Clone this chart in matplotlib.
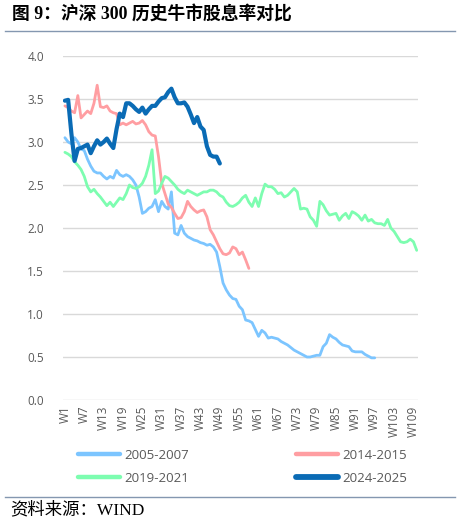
import matplotlib
matplotlib.use("Agg")
import matplotlib.pyplot as plt
from matplotlib.lines import Line2D

plt.rcParams['font.family'] = ['Open Sans', 'Noto Sans CJK SC', 'DejaVu Sans']

weeks = [f"W{i}" for i in range(1, 111)]
tick_labels = weeks[::6]

s2005 = [3.05, 3.0, 2.98, 3.05, 3.0, 2.92, 2.9, 2.8, 2.72, 2.66,
         2.64, 2.64, 2.6, 2.57, 2.6, 2.58, 2.67, 2.62, 2.6, 2.62,
         2.6, 2.56, 2.5, 2.36, 2.17, 2.19, 2.23, 2.25, 2.33, 2.19,
         2.31, 2.25, 2.22, 2.42, 1.94, 1.92, 2.03, 1.94, 1.9, 1.88,
         1.86, 1.85, 1.83, 1.82, 1.8, 1.81, 1.78, 1.72, 1.55, 1.36,
         1.28, 1.22, 1.18, 1.17, 1.09, 1.05, 0.93, 0.92, 0.9, 0.82,
         0.74, 0.81, 0.78, 0.72, 0.73, 0.72, 0.71, 0.68, 0.66, 0.64,
         0.61, 0.58, 0.56, 0.54, 0.52, 0.5, 0.5, 0.51, 0.52, 0.52,
         0.62, 0.66, 0.76, 0.73, 0.71, 0.67, 0.64, 0.63, 0.62, 0.57,
         0.56, 0.56, 0.56, 0.53, 0.51, 0.49, 0.49]

s2014 = [3.42, 3.4, 3.36, 3.34, 3.54, 3.28, 3.32, 3.36, 3.33, 3.45,
         3.66, 3.41, 3.4, 3.42, 3.36, 3.34, 3.33, 3.2, 3.22, 3.2,
         3.22, 3.24, 3.21, 3.22, 3.25, 3.2, 3.12, 3.08, 3.07, 2.83,
         2.52, 2.4, 2.28, 2.24, 2.17, 2.11, 2.12, 2.19, 2.31, 2.25,
         2.21, 2.18, 2.2, 2.21, 2.13, 1.98, 1.92, 1.84, 1.76, 1.7,
         1.69, 1.71, 1.78, 1.76, 1.69, 1.72, 1.63, 1.53]

s2019 = [2.88, 2.86, 2.83, 2.77, 2.73, 2.68, 2.6, 2.48, 2.42, 2.45,
         2.4, 2.36, 2.31, 2.26, 2.3, 2.25, 2.3, 2.35, 2.33, 2.4,
         2.5, 2.47, 2.46, 2.48, 2.52, 2.6, 2.73, 2.91, 2.4, 2.43,
         2.52, 2.6, 2.58, 2.54, 2.5, 2.45, 2.42, 2.4, 2.44, 2.42,
         2.4, 2.38, 2.4, 2.42, 2.42, 2.44, 2.44, 2.42, 2.38, 2.36,
         2.3, 2.26, 2.25, 2.27, 2.3, 2.35, 2.38, 2.3, 2.25, 2.35,
         2.25, 2.4, 2.51, 2.48, 2.48, 2.45, 2.4, 2.41, 2.36, 2.38,
         2.42, 2.46, 2.42, 2.22, 2.23, 2.22, 2.13, 2.09, 2.02, 2.31,
         2.27, 2.2, 2.15, 2.16, 2.17, 2.09, 2.14, 2.17, 2.11, 2.19,
         2.17, 2.14, 2.09, 2.15, 2.08, 2.1, 2.06, 2.05, 2.05, 2.03,
         2.1, 2.0, 1.96, 1.9, 1.84, 1.83, 1.84, 1.87, 1.84, 1.74]

s2024 = [3.48, 3.49, 3.1, 2.78, 2.92, 2.93, 2.95, 2.97, 2.87, 2.95,
         3.02, 2.97, 3.0, 3.04, 2.98, 2.93, 3.15, 3.33, 3.29, 3.45,
         3.45, 3.42, 3.38, 3.35, 3.4, 3.33, 3.38, 3.42, 3.42, 3.47,
         3.51, 3.52, 3.58, 3.62, 3.52, 3.45, 3.45, 3.46, 3.41, 3.32,
         3.22, 3.29, 3.18, 3.14, 2.95, 2.85, 2.83, 2.83, 2.75]

names = ["2005-2007", "2014-2015", "2019-2021", "2024-2025"]
colors = ["#7CC5FF", "#FF9EA2", "#7DFDB0", "#0A6BB5"]
widths = [2.0, 2.0, 2.0, 3.0]
series = [s2005, s2014, s2019, s2024]

fig = plt.figure(figsize=(4.58, 5.21), dpi=100)
ax = fig.add_axes([63.3 / 458, 1 - 400 / 521, 355 / 458, 344 / 521])

for name, vals, c, lw in zip(names, series, colors, widths):
    ax.plot(weeks[:len(vals)], vals, color=c, lw=lw, label=name,
            solid_joinstyle='round', solid_capstyle='round', zorder=3 if name == "2024-2025" else 2)

ax.set_xlim(-0.5, len(weeks) - 0.5)
ax.set_ylim(0, 4.0)
ax.set_yticks([i * 0.5 for i in range(9)])
ax.set_yticklabels([f"{i * 0.5:.1f}" for i in range(9)])
ax.set_xticks(range(0, len(weeks), 6))
ax.set_xticklabels(tick_labels, rotation=90)
ax.tick_params(axis='both', length=0, labelsize=8.5, colors="#595959")
ax.tick_params(axis='y', pad=14)
ax.tick_params(axis='x', pad=4)
ax.grid(axis='y', color="#D9D9D9", lw=1.0)
ax.set_axisbelow(True)
for sp in ax.spines.values():
    sp.set_visible(False)

order = [0, 2, 1, 3]
handles = [Line2D([], [], color=colors[i], lw=widths[i] + 1.2, solid_capstyle='round') for i in order]
labels = [names[i] for i in order]
leg = fig.legend(handles, labels, ncol=2, loc='upper left',
                 bbox_to_anchor=(66 / 458, 1 - 437 / 521), frameon=False,
                 fontsize=9.5, handlelength=3.2, handletextpad=0.3,
                 columnspacing=8.1, labelspacing=0.75)
for t in leg.get_texts():
    t.set_color("#595959")

fig.text(12 / 458, 1 - 15 / 521, "图 9：沪深 300 历史牛市股息率对比",
         family=['Liberation Serif', 'Noto Sans CJK SC'], weight='bold',
         fontsize=12.8, va='center', ha='left', color="#000000")
fig.add_artist(Line2D([5 / 458, 455 / 458], [1 - 31 / 521, 1 - 31 / 521],
                      color="#8497B0", lw=1.0))
fig.add_artist(Line2D([5 / 458, 455 / 458], [1 - 497 / 521, 1 - 497 / 521],
                      color="#8497B0", lw=1.0))
fig.text(10 / 458, 1 - 510 / 521, "资料来源：WIND",
         family=['Liberation Serif', 'Noto Sans CJK SC'],
         fontsize=12.5, va='center', ha='left', color="#000000")

fig.savefig("out.png", dpi=100)
